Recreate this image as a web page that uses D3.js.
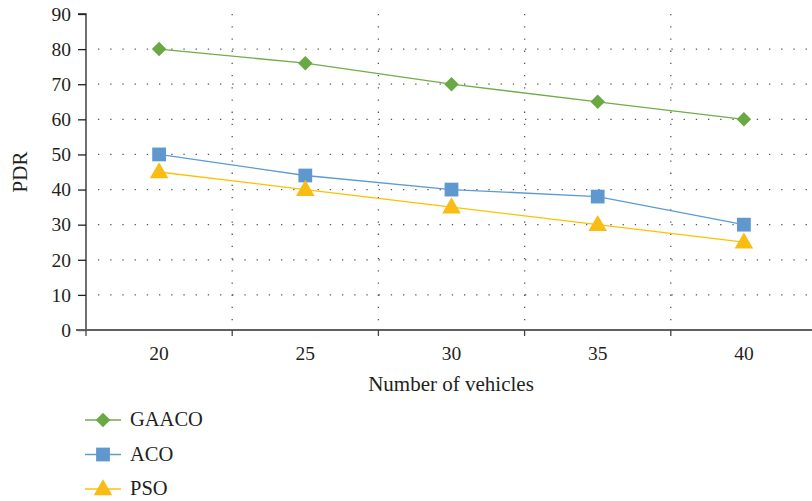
<!DOCTYPE html>
<html><head><meta charset="utf-8">
<script src="https://cdn.jsdelivr.net/npm/d3@7"></script>
<style>body{margin:0;background:#fff;}svg{display:block;} svg text{font-family:"Liberation Serif","DejaVu Serif",serif !important;fill:#231f20;}</style>
</head><body>
<svg id="c" width="812" height="501"></svg>
<script>
const categories = ["20","25","30","35","40"];
const gaaco = [80, 76, 70, 65, 60];
const aco = [50, 44, 40, 38, 30];
const pso = [45, 40, 35, 30, 25];
const yTicks = [0,10,20,30,40,50,60,70,80,90];
const seriesNames = ["GAACO","ACO","PSO"];

const series = [
  {name: seriesNames[0], values: gaaco, color: "#70AD47", fill: "#6AA843", kind: "diamond"},
  {name: seriesNames[1], values: aco, color: "#5B9BD5", fill: "#5F98CE", kind: "square"},
  {name: seriesNames[2], values: pso, color: "#FFC000", fill: "#F9BC12", kind: "triangle"}
];

const svg = d3.select("#c");
const pL = 86, pR = 817, pT = 14, pB = 330;
const x = d3.scaleBand().domain(categories).range([pL, pR]).padding(0);
const y = d3.scaleLinear().domain([0, 90]).range([pB, pT]);

// horizontal grid
svg.append("g").selectAll("line").data(yTicks.filter(t => t > 0 && t < 90)).join("line")
  .attr("x1", pL + 12).attr("x2", 812).attr("y1", d => y(d)).attr("y2", d => y(d))
  .attr("stroke", "#555").attr("stroke-width", 1.3).attr("stroke-dasharray", "1.3,10.9");
// vertical grid at band boundaries
const bounds = categories.slice(1).map(c => x(c));
svg.append("g").selectAll("line").data(bounds).join("line")
  .attr("x1", d => d).attr("x2", d => d).attr("y1", pT).attr("y2", pB)
  .attr("stroke", "#555").attr("stroke-width", 1.3).attr("stroke-dasharray", "1.3,10.9");

// y axis
const ya = svg.append("g").attr("transform", `translate(${pL},0)`)
  .call(d3.axisLeft(y).tickValues(yTicks).tickSize(8).tickPadding(7));
ya.attr("font-family", null);
ya.select(".domain").attr("stroke", "#222").attr("stroke-width", 1.3).attr("d", `M-8,${pT}H0V${pB}`);
ya.selectAll(".tick line").attr("stroke", "#222").attr("stroke-width", 1.3);
ya.selectAll(".tick text").style("font-size", "19.5px");

// x axis
const xa = svg.append("g").attr("transform", `translate(0,${pB})`)
  .call(d3.axisBottom(x).tickSize(0).tickPadding(16));
xa.attr("font-family", null);
xa.select(".domain").remove();
xa.append("line").attr("x1", pL - 10).attr("x2", 812).attr("y1", 0).attr("y2", 0)
  .attr("stroke", "#606060").attr("stroke-width", 2.2);
xa.selectAll(".bt").data([pL].concat(bounds)).join("line").attr("class","bt")
  .attr("x1", d => d).attr("x2", d => d).attr("y1", 0).attr("y2", 6)
  .attr("stroke", "#444").attr("stroke-width", 1.3);
xa.selectAll(".tick text").style("font-size", "19.5px");

// axis titles
svg.append("text").attr("x", 451).attr("y", 391).attr("text-anchor", "middle")
  .style("font-size", "21px").text("Number of vehicles");
svg.append("text").attr("transform", "translate(27,172) rotate(-90)").attr("text-anchor", "middle")
  .style("font-size", "21px").text("PDR");

// markers
function marker(g, kind, fill) {
  if (kind === "diamond") {
    return g.append("path").attr("d", d3.symbol().type(d3.symbolSquare).size(105)())
      .attr("transform", "rotate(45)").attr("fill", fill);
  } else if (kind === "square") {
    return g.append("path").attr("d", d3.symbol().type(d3.symbolSquare).size(190)()).attr("fill", fill);
  } else {
    return g.append("path").attr("d", d3.symbol().type(d3.symbolTriangle).size(150)())
      .attr("transform", "translate(0,1)").attr("fill", fill);
  }
}

// lines and markers
const cx = i => x(categories[i]) + x.bandwidth() / 2;
const line = d3.line().x((d, i) => cx(i)).y(d => y(d));
series.forEach(s => {
  svg.append("path").datum(s.values).attr("d", line).attr("fill", "none")
    .attr("stroke", s.color).attr("stroke-width", 1.3);
});
series.forEach(s => {
  svg.append("g").selectAll("g").data(s.values).join("g")
    .attr("transform", (d, i) => `translate(${cx(i)},${y(d)})`)
    .each(function() { marker(d3.select(this), s.kind, s.fill); });
});

// legend
const lg = svg.append("g");
series.forEach((s, i) => {
  const yy = 420 + i * 34.5;
  lg.append("line").attr("x1", 85).attr("x2", 121).attr("y1", yy).attr("y2", yy)
    .attr("stroke", s.color).attr("stroke-width", 1.5);
  marker(lg.append("g").attr("transform", `translate(103,${yy})`), s.kind, s.fill);
  lg.append("text").attr("x", 130).attr("y", yy + 6).style("font-size", "20.5px").text(s.name);
});
</script>
</body></html>
